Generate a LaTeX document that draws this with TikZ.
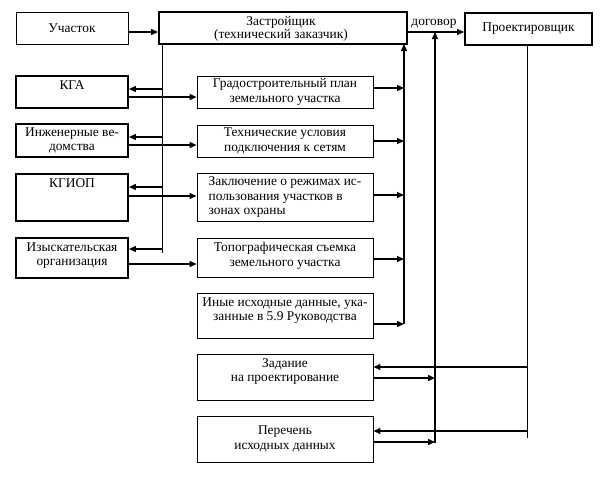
\documentclass[tikz,border=0pt]{standalone}
\usepackage{fontspec}
\setmainfont{Liberation Serif}
\usetikzlibrary{arrows.meta,calc}
\begin{document}
\begin{tikzpicture}[x=1pt,y=-1pt,
  every node/.style={font=\fontsize{13.4}{14.8}\selectfont},
  thinbox/.style={draw, line width=0.9pt, align=center, inner sep=2pt},
  thickbox/.style={draw, line width=1.9pt, align=center, inner sep=2pt},
  lbl/.style={inner sep=3.5pt, align=center},
  toplbl/.style={inner sep=5pt, align=center, anchor=north},
  arr/.style={line width=1.4pt, -{Triangle[length=7pt,width=6pt]}},
  thinln/.style={line width=0.9pt}]
\useasboundingbox (0,0) rectangle (605,480);
% top row
\node[thinbox, minimum width=112pt, minimum height=32pt] (uch) at (72,28) {Участок};
\node[thickbox, minimum width=248pt, minimum height=32pt] (zas) at (283,28) {};
\node[lbl, anchor=center] (zasT) at (281,29) {Застройщик\\[-2pt](технический заказчик)};
\node[thickbox, minimum width=127pt, minimum height=32pt] (pro) at (528.5,29) {Проектировщик};
% left column
\node[thickbox, minimum width=112pt, minimum height=32pt] (kga) at (72,92) {};
\node[toplbl] (kgaT) at (kga.north) {КГА};
\node[thickbox, minimum width=112pt, minimum height=33pt] (ing) at (72,140.5) {Инженерные ве-\\домства};
\node[thickbox, minimum width=112pt, minimum height=47pt] (kgiop) at (72,197.5) {};
\node[toplbl] (kgiopT) at (kgiop.north) {КГИОП};
\node[thickbox, minimum width=112pt, minimum height=40pt] (izy) at (72,258) {};
\node[lbl] (izyT) at (72,255.5) {Изыскательская\\организация};
% middle column
\node[thinbox, minimum width=176pt, minimum height=32pt] (grad) at (285,92) {Градостроительный план\\земельного участка};
\node[thinbox, minimum width=176pt, minimum height=32pt] (teh) at (285,141) {Технические условия\\подключения к сетям};
\node[thinbox, minimum width=176pt, minimum height=48pt] (zak) at (285,197) {};
\node[lbl, align=left, anchor=center] (zakT) at (zak.center) {Заключение о режимах ис-\\пользования участков в\\зонах охраны};
\node[thinbox, minimum width=176pt, minimum height=39pt] (topo) at (285,257.5) {};
\node[lbl] (topoT) at (285,255.5) {Топографическая съемка\\земельного участка};
\node[thinbox, minimum width=176pt, minimum height=45pt] (ino) at (285,315.5) {};
\node[toplbl, inner sep=4.5pt] (inoT) at (ino.north) {Иные исходные данные, ука-\\занные в 5.9 Руководства};
\node[thinbox, minimum width=176pt, minimum height=46pt] (zad) at (285,377) {};
\node[toplbl, inner sep=4.5pt] (zadT) at (zad.north) {Задание\\на проектирование};
\node[thinbox, minimum width=176pt, minimum height=46pt] (per) at (285,439) {Перечень\\исходных данных};
% coordinates of buses
\coordinate (b1top) at (162,44);
\coordinate (b1bot) at (162,253);
\coordinate (b2bot) at (404,324);
\coordinate (b2top) at (404,44);
\coordinate (b3bot) at (435,443);
\coordinate (b3top) at (435,32);
\coordinate (b4top) at (527,45);
\coordinate (b4bot) at (527,438);
% top connectors
\draw[arr] ($(uch.east)+(0,4)$) -- ($(zas.west)+(0,4)$);
\draw[arr] ($(zas.east)+(0,4)$) -- node[above, inner sep=3pt, xshift=-2pt] (dog) {договор} ($(pro.west)+(0,3)$);
% left bus
\draw[thinln] (b1top) -- (b1bot);
\draw[arr] (kga.east -| b1top) ++(0,-3) coordinate (k1) -- (k1 -| kga.east);
\draw[arr] (ing.east -| b1top) ++(0,-3.5) coordinate (k2) -- (k2 -| ing.east);
\draw[arr] (kgiop.east -| b1top) ++(0,-10.5) coordinate (k3) -- (k3 -| kgiop.east);
\draw[arr] (izy.east -| b1top) ++(0,-9) coordinate (k4) -- (k4 -| izy.east);
% left to middle
\draw[arr] ($(kga.east)+(0,5)$) -- ($(grad.west)+(0,5)$);
\draw[arr] ($(ing.east)+(0,4.5)$) -- ($(teh.west)+(0,4)$);
\draw[arr] ($(kgiop.east)+(0,-1.5)$) -- ($(zak.west)+(0,-1)$);
\draw[arr] ($(izy.east)+(0,6)$) -- ($(topo.west)+(0,6.5)$);
% middle to right bus
\draw[arr] ($(grad.east)+(0,-4)$) -- ($(grad.east -| b2top)+(0,-4)$);
\draw[arr] (teh.east) -- (teh.east -| b2top);
\draw[arr] ($(zak.east)+(0,-2)$) -- ($(zak.east -| b2top)+(0,-2)$);
\draw[arr] ($(topo.east)+(0,1.5)$) -- ($(topo.east -| b2top)+(0,1.5)$);
\draw[arr] (ino.east |- b2bot) -- (b2bot);
\draw[arr] (b2bot) -- (b2top);
% contract bus
\draw[arr] (b3bot) -- (b3top);
\draw[arr] ($(zad.east)+(0,1)$) -- ($(zad.east -| b3bot)+(0,1)$);
\draw[arr] ($(per.east)+(0,3)$) -- ($(per.east -| b3bot)+(0,3)$);
% designer bus
\draw[thinln] (b4top) -- (b4bot);
\draw[arr] ($(zad.east -| b4top)+(0,-10)$) -- ($(zad.east)+(0,-10)$);
\draw[arr] ($(per.east -| b4top)+(0,-8)$) -- ($(per.east)+(0,-8)$);
\end{tikzpicture}
\end{document}
